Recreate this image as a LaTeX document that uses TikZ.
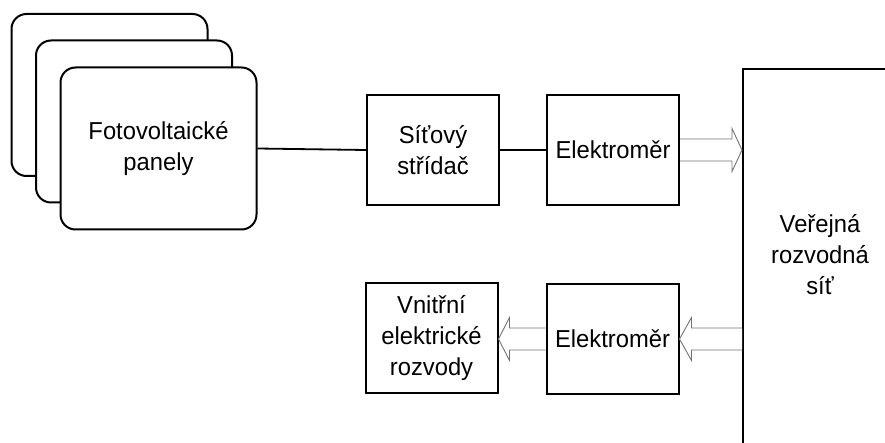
\documentclass[tikz,border=0pt]{standalone}
\usepackage{fontspec}
\setmainfont{Liberation Sans}[FakeStretch=0.97]
\usetikzlibrary{calc}
\tikzset{
  txt/.style={align=center,font=\fontsize{24.5}{31}\selectfont},
  pvbox/.style={draw,line width=2pt,rounded corners=15pt,fill=white,minimum width=196pt,minimum height=162pt,inner sep=0pt},
  blk/.style={draw,line width=2pt,fill=white,minimum width=132pt,minimum height=110pt,inner sep=0pt},
  wire/.style={line width=1.8pt},
  harrow/.style={draw=black!55,line width=0.9pt,fill=white,line join=miter}
}
\newcommand\hollowarrow[3]{%
  \path[harrow] let \p1=(#1), \p2=(#2) in
    (\x1,\y1+11pt) -- (\x2-#3,\y1+11pt) -- (\x2-#3,\y1+21.5pt) -- (\x2,\y1)
    -- (\x2-#3,\y1-21.5pt) -- (\x2-#3,\y1-11pt) -- (\x1,\y1-11pt);
}
\begin{document}
\begin{tikzpicture}[x=1pt,y=-1pt]
\useasboundingbox (0,0) rectangle (885,443);
\begin{scope}
\clip (0,0) rectangle (885,443);
\node[draw,line width=2pt,minimum width=220pt,minimum height=420pt,anchor=north west,inner sep=0pt] (grid) at (742,68) {};
\end{scope}
\node[txt] (gridtext) at (820,255) {Veřejná\\rozvodná\\síť};

\node[pvbox] (pv3) at (109.5,95) {};
\node[pvbox] (pv2) at (134,121.5) {};
\node[pvbox,txt] (pv1) at (158.5,148.5) {Fotovoltaické\\panely};

\node[blk,txt] (inv) at (433,150) {Síťový\\střídač};
\node[blk,txt] (e1) at (613,150) {Elektroměr};
\node[blk,txt] (e2) at (612.5,339) {Elektroměr};
\node[blk,txt] (vn) at (431.5,338) {Vnitřní\\elektrické\\rozvody};

\draw[wire] (pv1.east) -- (inv.west);
\draw[wire] (inv.east) -- (e1.west);

\coordinate (gin) at (grid.west |- e1.east);
\coordinate (gout) at (grid.west |- e2.east);
\hollowarrow{e1.east}{gin}{10pt}
\hollowarrow{gout}{e2.east}{-12pt}
\hollowarrow{e2.west}{vn.east}{-11pt}
\end{tikzpicture}
\end{document}
